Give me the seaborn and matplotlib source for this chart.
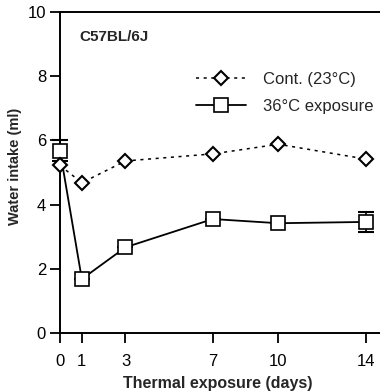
import numpy as np
import pandas as pd
import seaborn as sns
import matplotlib.pyplot as plt

days = [0, 1, 3, 7, 10, 14]
cont_23 = [5.22, 4.68, 5.36, 5.58, 5.88, 5.42]
exp_36 = [5.68, 1.68, 2.67, 3.55, 3.42, 3.46]
exp_36_err = [0.33, 0.0, 0.0, 0.0, 0.0, 0.3]

sns.set_style('ticks')
plt.rcParams['font.family'] = ['Liberation Sans', 'DejaVu Sans']

fig = plt.figure(figsize=(3.8, 3.91), dpi=100)
ax = fig.add_axes([60 / 380, 58 / 391, 322 / 380, 321 / 391])

df = pd.DataFrame({'day': days, 'cont': cont_23, 'exp': exp_36})

ax.errorbar(days, exp_36, yerr=exp_36_err, fmt='none', ecolor='black',
            elinewidth=1.2, capsize=6, capthick=1.5, zorder=2, clip_on=False)
sns.lineplot(data=df, x='day', y='exp', ax=ax, color='black', lw=1.3,
             marker='s', markersize=10, markerfacecolor='white',
             markeredgecolor='black', markeredgewidth=1.2,
             label='36\u00b0C exposure', zorder=3, clip_on=False)
sns.lineplot(data=df, x='day', y='cont', ax=ax, color='black', lw=1.1,
             linestyle=(0, (2, 3)), marker='D', markersize=7,
             markerfacecolor='white', markeredgecolor='black',
             markeredgewidth=1.5, label='Cont. (23\u00b0C)', zorder=4,
             clip_on=False)

ax.set_xlim(0, 14.75)
ax.set_ylim(0, 10)
ax.set_xticks(days)
ax.set_yticks([0, 2, 4, 6, 8, 10])
ax.tick_params(axis='both', direction='out', length=7, width=1.3,
               labelsize=12, colors='black')
ax.tick_params(axis='x', pad=8)
ax.tick_params(axis='y', pad=3)
for s in ['left', 'bottom', 'top']:
    ax.spines[s].set_linewidth(1.4)
    ax.spines[s].set_color('black')
ax.spines['right'].set_visible(False)

ax.set_xlabel('Thermal exposure (days)', fontsize=11.5, fontweight='bold',
              labelpad=0)
ax.xaxis.set_label_coords(0.49, -0.135)
ax.set_ylabel('Water intake (ml)', fontsize=10.5, fontweight='bold')
ax.yaxis.set_label_coords(-0.118, 0.52)
ax.text(0.06, 0.945, 'C57BL/6J', transform=ax.transAxes, fontsize=11,
        fontweight='bold', va='top')

h, l = ax.get_legend_handles_labels()
ax.legend(h[::-1], l[::-1], loc='upper right', bbox_to_anchor=(1.02, 0.86),
          frameon=False, fontsize=12, handlelength=3.0, handletextpad=1.0,
          labelspacing=0.7)

fig.savefig('out.png', dpi=100)
